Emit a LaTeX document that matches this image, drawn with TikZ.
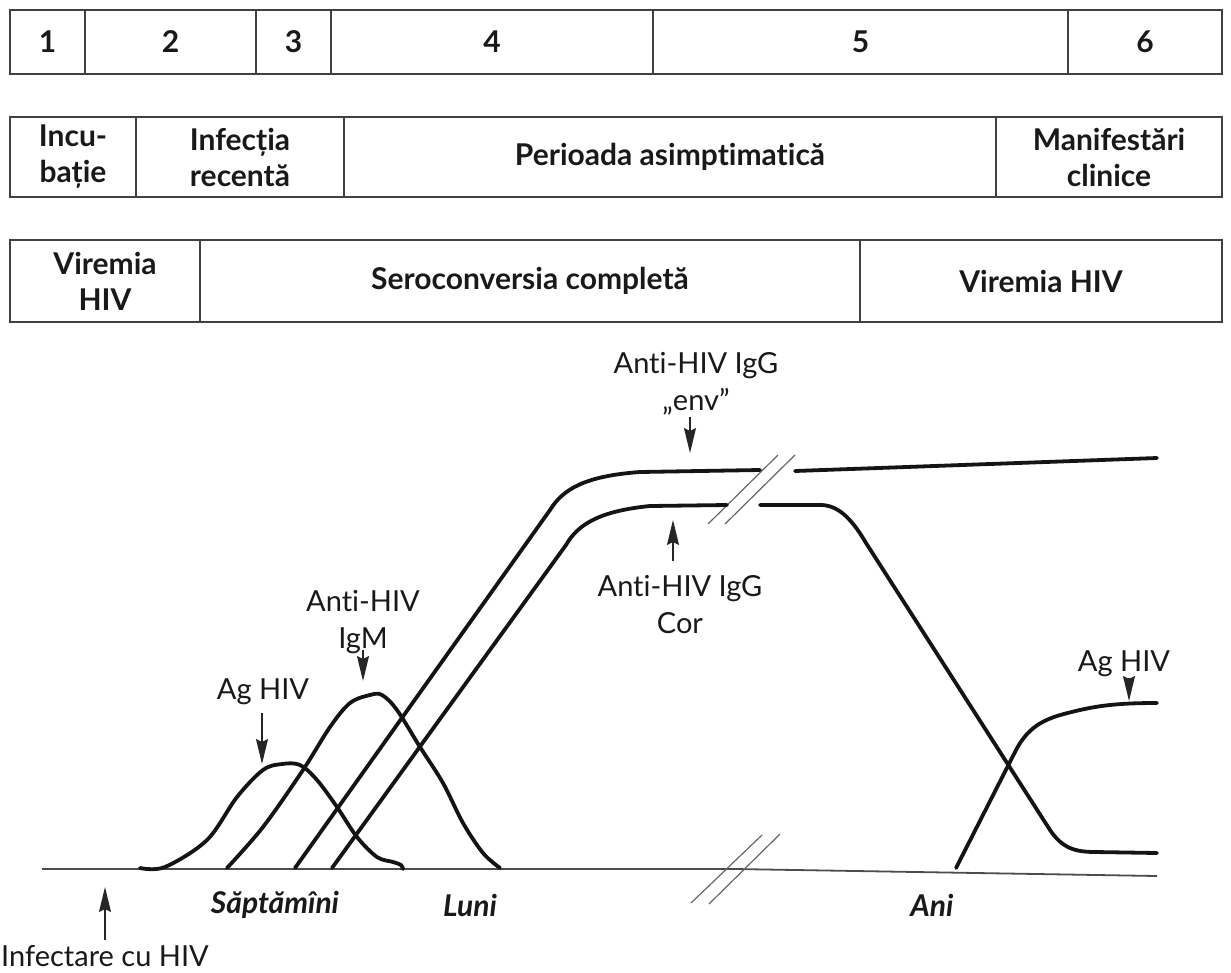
\documentclass[tikz,border=0pt]{standalone}
\usepackage{fontspec}
\setmainfont{Lato}[Ligatures={NoCommon,NoRare}]
\usetikzlibrary{arrows.meta}
\begin{document}
\begin{tikzpicture}[x=1pt,y=-1pt,
  cell/.style={draw=black!75,line width=1.6pt,inner sep=0pt,align=center,
    font=\fontsize{30}{36}\selectfont\bfseries,text=black!90},
  lbl/.style={inner sep=0pt,align=center,font=\fontsize{29}{37}\selectfont,text=black!90},
  axlbl/.style={inner sep=0pt,font=\fontsize{30}{36}\selectfont\bfseries\itshape,text=black!90},
  curve/.style={line width=3.8pt,black!92,line join=round,line cap=round},
  axis/.style={line width=1.8pt,black!70},
  brk/.style={line width=1.2pt,black!60},
  arr/.style={line width=1.6pt,black!85,-{Stealth[length=25pt,width=12pt,inset=3pt]}}]
\useasboundingbox (0,0) rectangle (1231,972);

% stage numbers
\node[cell,minimum width=75pt,minimum height=64pt] (n1) at (47.5,42) {1};
\node[cell,minimum width=171pt,minimum height=64pt] (n2) at (170.5,42) {2};
\node[cell,minimum width=75pt,minimum height=64pt] (n3) at (293.5,42) {3};
\node[cell,minimum width=322pt,minimum height=64pt] (n4) at (492,42) {4};
\node[cell,minimum width=415pt,minimum height=64pt] (n5) at (860.5,42) {5};
\node[cell,minimum width=154pt,minimum height=64pt] (n6) at (1145,42) {6};

% clinical periods
\node[cell,minimum width=126pt,minimum height=80pt] (p1) at (73,157) {Incu-\\bație};
\node[cell,minimum width=208pt,minimum height=80pt] (p2) at (240,157) {Infecția\\recentă};
\node[cell,minimum width=652pt,minimum height=80pt] (p3) at (670,157) {Perioada asimptimatică};
\node[cell,minimum width=226pt,minimum height=80pt] (p4) at (1109,157) {Manifestări\\clinice};

% serological phases
\node[cell,minimum width=190pt,minimum height=82pt] (s1) at (105,281) {Viremia\\HIV};
\node[cell,minimum width=660pt,minimum height=82pt] (s2) at (530,281) {Seroconversia completă};
\node[cell,minimum width=362pt,minimum height=82pt] (s3) at (1041,281) {Viremia HIV};

% time axis with break
\coordinate (ax0) at (42,869);
\coordinate (ax1) at (735,869);
\coordinate (ax2) at (1157,876);
\draw[axis] (ax0) -- (ax1) -- (ax2);
\coordinate (bA1) at (691,903); \coordinate (bA2) at (762,835);
\coordinate (bB1) at (709,904); \coordinate (bB2) at (780,834);
\draw[brk] (bA1) -- (bA2);
\draw[brk] (bB1) -- (bB2);

% break marks on the IgG plateaus
\coordinate (bC1) at (708,524); \coordinate (bC2) at (778,455);
\coordinate (bD1) at (725,524); \coordinate (bD2) at (795,455);
\draw[brk] (bC1) -- (bC2);
\draw[brk] (bD1) -- (bD2);

% early antigen
\draw[curve] plot[smooth,tension=0.55] coordinates {(140,868) (165,867) (207,840) (237,797) (263,770) (282,764) (300,765) (317,780) (337,807) (357,837) (377,857) (393,862) (401,865) (403,869)};

% IgM
\draw[curve] plot[smooth,tension=0.55] coordinates {(227,868) (263,827) (303,770) (330,727) (350,703) (370,695) (382,695) (397,710) (420,747) (443,783) (463,823) (483,853) (500,868)};

% IgG env
\draw[curve] (295,868) -- (550,510) .. controls (563,489) and (585,476) .. (640,472) -- (760,470);
\draw[curve] (795,471) -- (1157,458);

% IgG core
\draw[curve] (332,868) -- (566,545) .. controls (578,524) and (600,511) .. (650,506) -- (727,505);
\draw[curve] (760,505) -- (822,505) .. controls (840,506) and (853,521) .. (866,543) -- (1050,830) .. controls (1062,848) and (1075,852) .. (1095,852) -- (1157,853);

% late antigen
\draw[curve] (956,868) -- (1015,752) .. controls (1030,722) and (1050,717) .. (1080,710) .. controls (1102,705) and (1122,703) .. (1157,703);

% labels and pointers
\node[lbl] (ag1) at (263,692) {Ag HIV};
\coordinate (ag1s) at (262,713); \coordinate (ag1t) at (262,764);
\draw[arr] (ag1s) -- (ag1t);

\node[lbl] (igm) at (363,622) {Anti-HIV\\IgM};
\coordinate (igms) at (363,650); \coordinate (igmt) at (363,681);
\draw[arr] (igms) -- (igmt);

\node[lbl] (env) at (696,384) {Anti-HIV IgG\\„env”};
\coordinate (envs) at (690,417); \coordinate (envt) at (690,453);
\draw[arr] (envs) -- (envt);

\node[lbl] (cor) at (680,605) {Anti-HIV IgG\\Cor};
\coordinate (cors) at (673,561); \coordinate (cort) at (673,520);
\draw[arr] (cors) -- (cort);

\node[lbl] (ag2) at (1124,664) {Ag HIV};
\coordinate (ag2s) at (1129,678); \coordinate (ag2t) at (1129,701);
\draw[arr] (ag2s) -- (ag2t);

\node[lbl,anchor=west] (inf) at (1,956) {Infectare cu HIV};
\coordinate (infs) at (105,940); \coordinate (inft) at (105,887);
\draw[arr] (infs) -- (inft);

% time scale
\node[axlbl] (w) at (275,905) {Săptămîni};
\node[axlbl] (m) at (470,905) {Luni};
\node[axlbl] (y) at (932,905) {Ani};
\end{tikzpicture}
\end{document}
